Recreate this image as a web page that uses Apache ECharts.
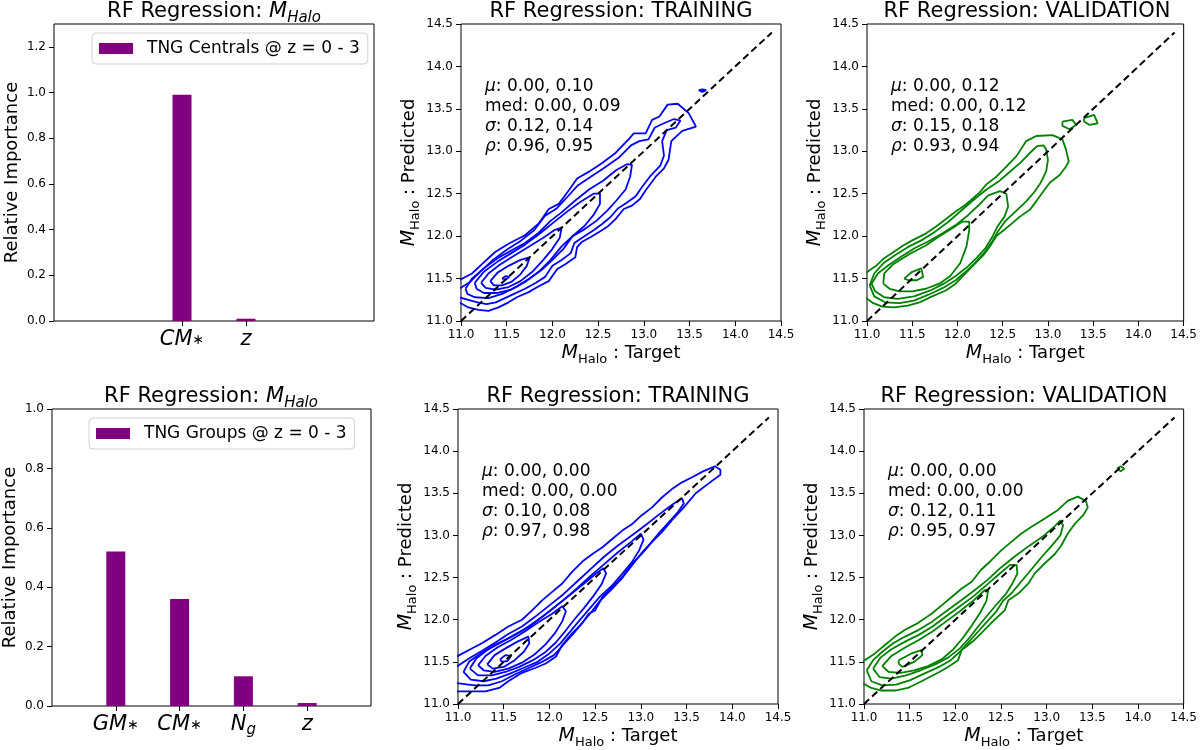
<!DOCTYPE html>
<html>
<head>
<meta charset="utf-8">
<script src="https://cdn.jsdelivr.net/npm/echarts@6/dist/echarts.min.js"></script>
<style>
  html, body { margin: 0; padding: 0; background: #fff; }
  #main { width: 1200px; height: 750px; }
</style>
</head>
<body>
<div id="main"></div>
<script>
var FONT = 'DejaVu Sans';

// bar panels
var centralFeatures = ['CM*', 'z'];
var centralImportance = [0.99, 0.01];
var groupFeatures = ['GM*', 'CM*', 'Ng', 'z'];
var groupImportance = [0.52, 0.36, 0.10, 0.01];

// stats text per contour panel: mu, med, sigma, rho
var statsTrainTop = ['0.00, 0.10', '0.00, 0.09', '0.12, 0.14', '0.96, 0.95'];
var statsValidTop = ['0.00, 0.12', '0.00, 0.12', '0.15, 0.18', '0.93, 0.94'];
var statsTrainBottom = ['0.00, 0.00', '0.00, 0.00', '0.10, 0.08', '0.97, 0.98'];
var statsValidBottom = ['0.00, 0.00', '0.00, 0.00', '0.12, 0.11', '0.95, 0.97'];

var diagonal = [[11, 11], [14.4, 14.4]];

// contour lines (target, predicted)
var trainTop = [
  [[10.98,11.48],[11.12,11.56],[11.25,11.69],[11.37,11.81],[11.52,11.91],[11.70,12.01],[11.85,12.15],[11.96,12.32],[12.07,12.38],[12.18,12.54],[12.27,12.68],[12.40,12.76],[12.54,12.86],[12.69,12.98],[12.84,13.15],[12.89,13.21],[13.02,13.21],[13.09,13.37],[13.17,13.41],[13.26,13.55],[13.37,13.56],[13.49,13.45],[13.57,13.29],[13.42,13.24],[13.30,13.12],[13.27,12.90],[13.22,12.80],[13.13,12.70],[13.02,12.54],[12.96,12.44],[12.87,12.36],[12.78,12.32],[12.69,12.20],[12.60,12.11],[12.51,12.05],[12.42,11.99],[12.32,11.93],[12.27,11.87],[12.25,11.75],[12.14,11.67],[12.05,11.61],[11.96,11.47],[11.85,11.41],[11.74,11.34],[11.61,11.28],[11.52,11.22],[11.41,11.16],[11.30,11.12],[11.19,11.13],[11.08,11.16],[10.98,11.22]],
  [[10.98,11.38],[11.10,11.46],[11.22,11.59],[11.35,11.72],[11.50,11.84],[11.66,11.95],[11.80,12.07],[11.92,12.24],[12.05,12.33],[12.17,12.47],[12.28,12.60],[12.42,12.70],[12.56,12.80],[12.72,12.92],[12.86,13.07],[12.95,13.12],[13.05,13.14],[13.12,13.28],[13.22,13.33],[13.33,13.38],[13.40,13.36],[13.35,13.28],[13.25,13.25],[13.20,13.12],[13.22,12.95],[13.18,12.83],[13.08,12.72],[12.98,12.58],[12.91,12.47],[12.82,12.40],[12.72,12.33],[12.63,12.22],[12.54,12.14],[12.45,12.07],[12.35,12.00],[12.24,11.92],[12.20,11.80],[12.10,11.72],[12.00,11.65],[11.92,11.52],[11.82,11.45],[11.70,11.38],[11.58,11.32],[11.48,11.27],[11.38,11.22],[11.28,11.20],[11.18,11.22],[11.08,11.25],[10.98,11.28]],
  [[11.05,11.38],[11.12,11.50],[11.25,11.62],[11.40,11.74],[11.55,11.83],[11.70,11.92],[11.85,12.04],[11.98,12.18],[12.10,12.28],[12.25,12.42],[12.40,12.55],[12.55,12.65],[12.70,12.78],[12.82,12.85],[12.87,12.84],[12.85,12.70],[12.80,12.55],[12.70,12.42],[12.60,12.30],[12.48,12.18],[12.35,12.08],[12.22,12.00],[12.12,11.85],[12.00,11.72],[11.88,11.60],[11.75,11.50],[11.60,11.40],[11.45,11.32],[11.30,11.27],[11.15,11.28],[11.07,11.32],[11.05,11.38]],
  [[11.15,11.45],[11.25,11.58],[11.40,11.70],[11.55,11.80],[11.70,11.90],[11.85,12.02],[12.00,12.15],[12.15,12.28],[12.30,12.40],[12.45,12.50],[12.52,12.50],[12.52,12.38],[12.45,12.25],[12.35,12.12],[12.22,12.00],[12.10,11.88],[11.98,11.72],[11.85,11.58],[11.70,11.46],[11.55,11.37],[11.40,11.33],[11.25,11.33],[11.17,11.38],[11.15,11.45]],
  [[11.22,11.45],[11.30,11.56],[11.42,11.66],[11.58,11.77],[11.75,11.88],[11.90,11.98],[12.02,12.07],[12.10,12.10],[12.08,11.98],[12.00,11.85],[11.90,11.72],[11.78,11.58],[11.65,11.47],[11.52,11.40],[11.38,11.37],[11.27,11.39],[11.22,11.45]],
  [[11.32,11.47],[11.40,11.57],[11.52,11.65],[11.65,11.72],[11.75,11.75],[11.72,11.65],[11.65,11.55],[11.55,11.46],[11.45,11.42],[11.36,11.42],[11.32,11.47]],
  [[11.45,11.50],[11.49,11.53],[11.53,11.52],[11.49,11.49],[11.45,11.50]],
  [[13.60,13.72],[13.64,13.73],[13.68,13.72],[13.64,13.70],[13.60,13.72]]
];

var validTop = [
  [[10.98,11.56],[11.10,11.65],[11.19,11.74],[11.29,11.81],[11.40,11.89],[11.50,11.95],[11.65,12.03],[11.76,12.11],[11.87,12.20],[11.98,12.29],[12.09,12.37],[12.24,12.51],[12.32,12.61],[12.43,12.70],[12.54,12.82],[12.65,12.94],[12.76,13.12],[12.87,13.18],[13.05,13.19],[13.16,13.14],[13.20,13.02],[13.23,12.88],[13.20,12.82],[13.13,12.72],[13.02,12.63],[12.95,12.53],[12.87,12.41],[12.80,12.31],[12.69,12.23],[12.58,12.13],[12.51,12.07],[12.43,12.00],[12.36,11.88],[12.29,11.78],[12.18,11.66],[12.07,11.54],[11.98,11.44],[11.87,11.36],[11.72,11.29],[11.58,11.22],[11.45,11.18],[11.30,11.16],[11.17,11.17],[11.07,11.21],[10.98,11.28]],
  [[11.03,11.42],[11.08,11.56],[11.18,11.68],[11.30,11.77],[11.45,11.87],[11.60,11.95],[11.75,12.05],[11.90,12.17],[12.03,12.29],[12.17,12.42],[12.32,12.55],[12.45,12.64],[12.57,12.75],[12.70,12.87],[12.80,12.98],[12.88,13.06],[12.95,13.07],[12.98,13.02],[13.00,12.90],[12.98,12.76],[12.92,12.63],[12.85,12.52],[12.76,12.41],[12.64,12.29],[12.53,12.18],[12.45,12.06],[12.38,11.93],[12.30,11.81],[12.20,11.69],[12.09,11.58],[11.98,11.48],[11.84,11.39],[11.68,11.31],[11.52,11.24],[11.36,11.21],[11.20,11.22],[11.08,11.29],[11.03,11.42]],
  [[11.05,11.44],[11.12,11.56],[11.24,11.66],[11.38,11.76],[11.53,11.86],[11.68,11.94],[11.83,12.03],[11.98,12.13],[12.12,12.25],[12.24,12.37],[12.34,12.48],[12.47,12.53],[12.54,12.50],[12.56,12.35],[12.52,12.23],[12.44,12.11],[12.38,11.98],[12.31,11.86],[12.21,11.74],[12.10,11.63],[11.98,11.53],[11.85,11.44],[11.70,11.36],[11.52,11.29],[11.34,11.26],[11.19,11.28],[11.09,11.35],[11.05,11.44]],
  [[11.18,11.44],[11.19,11.56],[11.29,11.67],[11.47,11.79],[11.65,11.89],[11.80,12.00],[11.94,12.09],[12.05,12.17],[12.13,12.17],[12.13,12.07],[12.10,11.88],[12.03,11.68],[11.92,11.53],[11.80,11.44],[11.65,11.38],[11.50,11.35],[11.36,11.35],[11.25,11.38],[11.18,11.44]],
  [[11.41,11.50],[11.50,11.58],[11.60,11.62],[11.62,11.52],[11.55,11.48],[11.46,11.48],[11.41,11.50]],
  [[13.16,13.35],[13.27,13.37],[13.31,13.31],[13.24,13.26],[13.16,13.30],[13.16,13.35]],
  [[13.40,13.39],[13.51,13.43],[13.55,13.33],[13.46,13.31],[13.40,13.35],[13.40,13.39]]
];

var trainBottom = [
  [[10.98,11.56],[11.12,11.64],[11.26,11.72],[11.41,11.82],[11.55,11.92],[11.70,12.00],[11.81,12.11],[11.92,12.23],[12.03,12.33],[12.14,12.43],[12.25,12.57],[12.36,12.69],[12.47,12.78],[12.58,12.86],[12.69,12.96],[12.80,13.06],[12.91,13.14],[13.01,13.24],[13.12,13.33],[13.23,13.45],[13.34,13.55],[13.45,13.63],[13.56,13.69],[13.68,13.76],[13.81,13.82],[13.87,13.78],[13.87,13.72],[13.72,13.60],[13.60,13.50],[13.53,13.41],[13.45,13.31],[13.34,13.18],[13.23,13.04],[13.12,12.92],[13.01,12.78],[12.91,12.67],[12.80,12.51],[12.69,12.39],[12.58,12.27],[12.50,12.11],[12.43,12.07],[12.36,11.96],[12.25,11.84],[12.14,11.70],[12.07,11.56],[11.96,11.48],[11.85,11.43],[11.70,11.37],[11.55,11.27],[11.45,11.19],[11.30,11.15],[11.15,11.15],[10.98,11.15]],
  [[10.98,11.44],[11.12,11.54],[11.26,11.63],[11.41,11.73],[11.55,11.83],[11.70,11.92],[11.85,12.04],[12.00,12.17],[12.15,12.30],[12.30,12.45],[12.45,12.60],[12.60,12.75],[12.75,12.88],[12.90,13.00],[13.05,13.12],[13.20,13.25],[13.35,13.37],[13.45,13.44],[13.47,13.38],[13.40,13.27],[13.30,13.15],[13.20,13.03],[13.10,12.90],[13.00,12.78],[12.90,12.64],[12.80,12.50],[12.68,12.36],[12.55,12.22],[12.45,12.08],[12.35,11.95],[12.25,11.82],[12.15,11.70],[12.05,11.58],[11.92,11.50],[11.78,11.43],[11.62,11.35],[11.48,11.27],[11.33,11.22],[11.18,11.22],[10.98,11.25]],
  [[11.06,11.38],[11.12,11.50],[11.25,11.60],[11.40,11.70],[11.55,11.78],[11.70,11.87],[11.85,11.98],[12.00,12.10],[12.15,12.23],[12.30,12.37],[12.45,12.52],[12.60,12.66],[12.75,12.80],[12.90,12.93],[13.00,13.02],[13.03,12.95],[12.98,12.82],[12.90,12.68],[12.80,12.55],[12.68,12.40],[12.55,12.27],[12.43,12.12],[12.32,11.98],[12.22,11.85],[12.12,11.72],[12.00,11.60],[11.87,11.50],[11.72,11.43],[11.57,11.36],[11.42,11.30],[11.28,11.27],[11.14,11.29],[11.06,11.38]],
  [[11.13,11.42],[11.20,11.54],[11.32,11.64],[11.47,11.73],[11.62,11.82],[11.78,11.92],[11.93,12.04],[12.08,12.17],[12.23,12.30],[12.38,12.43],[12.50,12.54],[12.59,12.61],[12.62,12.55],[12.57,12.42],[12.48,12.28],[12.38,12.14],[12.27,12.00],[12.17,11.86],[12.07,11.73],[11.95,11.61],[11.82,11.52],[11.67,11.44],[11.52,11.38],[11.37,11.34],[11.22,11.34],[11.13,11.42]],
  [[11.22,11.46],[11.30,11.57],[11.43,11.67],[11.58,11.76],[11.73,11.86],[11.88,11.97],[12.03,12.07],[12.14,12.16],[12.18,12.10],[12.14,11.98],[12.06,11.84],[11.96,11.71],[11.84,11.59],[11.70,11.49],[11.55,11.42],[11.40,11.38],[11.28,11.40],[11.22,11.46]],
  [[11.32,11.47],[11.40,11.58],[11.52,11.66],[11.65,11.74],[11.77,11.80],[11.78,11.72],[11.72,11.62],[11.62,11.52],[11.50,11.44],[11.38,11.42],[11.32,11.47]],
  [[11.46,11.53],[11.52,11.58],[11.58,11.57],[11.54,11.51],[11.48,11.50],[11.46,11.53]]
];

var validBottom = [
  [[10.98,11.50],[11.12,11.60],[11.23,11.70],[11.34,11.80],[11.45,11.88],[11.59,11.96],[11.74,12.07],[11.85,12.17],[11.96,12.27],[12.07,12.37],[12.18,12.45],[12.28,12.59],[12.39,12.70],[12.50,12.82],[12.61,12.92],[12.72,13.02],[12.83,13.10],[12.98,13.20],[13.12,13.30],[13.23,13.41],[13.34,13.46],[13.43,13.41],[13.45,13.33],[13.40,13.24],[13.31,13.14],[13.23,13.02],[13.16,12.88],[13.09,12.78],[12.98,12.67],[12.87,12.55],[12.80,12.43],[12.69,12.31],[12.58,12.23],[12.54,12.11],[12.43,12.00],[12.32,11.88],[12.21,11.76],[12.07,11.64],[12.03,11.52],[11.92,11.44],[11.81,11.37],[11.63,11.27],[11.48,11.19],[11.34,11.16],[11.19,11.16],[11.08,11.19],[10.98,11.25]],
  [[11.03,11.40],[11.10,11.52],[11.20,11.62],[11.32,11.72],[11.45,11.80],[11.60,11.88],[11.75,11.98],[11.90,12.10],[12.05,12.22],[12.20,12.34],[12.35,12.47],[12.50,12.62],[12.65,12.75],[12.80,12.87],[12.95,12.98],[13.08,13.10],[13.15,13.18],[13.18,13.12],[13.15,13.00],[13.05,12.87],[12.95,12.75],[12.85,12.62],[12.72,12.45],[12.62,12.32],[12.52,12.22],[12.45,12.10],[12.35,11.98],[12.25,11.86],[12.15,11.74],[12.05,11.62],[11.95,11.52],[11.82,11.44],[11.66,11.36],[11.50,11.28],[11.35,11.23],[11.20,11.22],[11.08,11.27],[11.03,11.40]],
  [[11.10,11.42],[11.18,11.55],[11.30,11.65],[11.45,11.74],[11.60,11.82],[11.75,11.92],[11.90,12.04],[12.05,12.16],[12.20,12.28],[12.35,12.42],[12.50,12.56],[12.60,12.65],[12.67,12.65],[12.68,12.55],[12.62,12.42],[12.55,12.30],[12.45,12.18],[12.35,12.05],[12.25,11.92],[12.15,11.78],[12.05,11.66],[11.92,11.55],[11.78,11.47],[11.62,11.40],[11.46,11.34],[11.30,11.30],[11.17,11.32],[11.10,11.42]],
  [[11.20,11.45],[11.30,11.57],[11.45,11.67],[11.60,11.76],[11.75,11.86],[11.90,11.98],[12.05,12.10],[12.20,12.23],[12.32,12.35],[12.36,12.35],[12.34,12.22],[12.27,12.08],[12.18,11.93],[12.08,11.78],[11.97,11.64],[11.85,11.53],[11.70,11.45],[11.55,11.40],[11.40,11.37],[11.27,11.38],[11.20,11.45]],
  [[11.38,11.52],[11.52,11.60],[11.63,11.64],[11.64,11.58],[11.55,11.50],[11.42,11.44],[11.38,11.48],[11.38,11.52]],
  [[13.77,13.79],[13.81,13.82],[13.85,13.79],[13.81,13.76],[13.77,13.79]]
];

// layout of the six panels (px)
var panels = [
  { left: 54,  top: 24,  width: 320, height: 297 },
  { left: 461, top: 24,  width: 320, height: 297 },
  { left: 867, top: 24,  width: 320, height: 297 },
  { left: 51,  top: 409, width: 320, height: 297 },
  { left: 458, top: 409, width: 320, height: 297 },
  { left: 864, top: 409, width: 320, height: 297 }
];

var chart = echarts.init(document.getElementById('main'));

var tickText = { fontFamily: FONT, fontSize: 12, color: '#000' };
var mathRich = {
  m: { fontFamily: FONT, fontSize: 19, fontStyle: 'italic', color: '#000', lineHeight: 26 },
  s: { fontFamily: FONT, fontSize: 13, color: '#000', lineHeight: 16, verticalAlign: 'bottom' },
  t: { fontFamily: FONT, fontSize: 18, color: '#000', lineHeight: 26 }
};
var titleRich = {
  t: { fontFamily: FONT, fontSize: 21, fontWeight: 'normal', color: '#000', lineHeight: 28 },
  m: { fontFamily: FONT, fontSize: 21, fontWeight: 'normal', fontStyle: 'italic', color: '#000', lineHeight: 28 },
  s: { fontFamily: FONT, fontSize: 15, fontWeight: 'normal', fontStyle: 'italic', color: '#000', lineHeight: 18, verticalAlign: 'bottom' }
};
var featRich = {
  i: { fontFamily: FONT, fontSize: 21, fontStyle: 'italic', color: '#000', lineHeight: 26 },
  s: { fontFamily: FONT, fontSize: 14, color: '#000', lineHeight: 26 },
  si: { fontFamily: FONT, fontSize: 15, fontStyle: 'italic', color: '#000', lineHeight: 18, verticalAlign: 'bottom' }
};

function featLabel(name) {
  if (name === 'Ng') return '{i|N}{si|g}';
  if (name.charAt(name.length - 1) === '*') return '{i|' + name.slice(0, -1) + '}{s|\u2217}';
  return '{i|' + name + '}';
}

var titles = [], grids = [], xAxes = [], yAxes = [], series = [], legends = [], graphics = [];

panels.forEach(function (p, i) {
  grids.push({ left: p.left, top: p.top, width: p.width, height: p.height,
    show: true, borderColor: '#000', borderWidth: 1, backgroundColor: 'transparent' });
  var isBar = (i === 0 || i === 3);
  var ttl = isBar ? '{t|RF Regression: }{m|M}{s|Halo}'
    : (i === 1 || i === 4) ? '{t|RF Regression: TRAINING}' : '{t|RF Regression: VALIDATION}';
  titles.push({ text: ttl, left: p.left + p.width / 2, top: p.top - 26, textAlign: 'center', padding: 0,
    textStyle: { fontWeight: 'normal', rich: titleRich } });
});

// bar panels
function addBarPanel(gi, names, values, xmin, xmax, ymax, legendName, showMax) {
  var idx = names.map(function (n, k) { return k; });
  xAxes.push({ gridIndex: gi, type: 'value', min: xmin, max: xmax,
    axisLine: { show: false, onZero: false }, splitLine: { show: false },
    axisTick: { show: true, length: 5, lineStyle: { color: '#000' }, customValues: idx },
    axisLabel: { margin: 6, customValues: idx,
      formatter: function (v) { return featLabel(names[Math.round(v)]); }, rich: featRich } });
  yAxes.push({ gridIndex: gi, type: 'value', min: 0, max: ymax, interval: 0.2,
    name: 'Relative Importance', nameLocation: 'middle', nameGap: 33,
    nameTextStyle: { fontFamily: FONT, fontSize: 18, color: '#000' },
    axisLine: { show: false, onZero: false }, splitLine: { show: false },
    axisTick: { show: true, length: 5, lineStyle: { color: '#000' } },
    axisLabel: Object.assign({ margin: 8, showMaxLabel: showMax, formatter: function (v) { return v.toFixed(1); } }, tickText) });
  series.push({ type: 'bar', name: legendName, xAxisIndex: gi, yAxisIndex: gi, barWidth: 19,
    itemStyle: { color: '#800080' }, data: values.map(function (v, k) { return [k, v]; }) });
  var p = panels[gi];
  legends.push({ data: [legendName], left: p.left + 38, top: p.top + 9, orient: 'vertical',
    icon: 'rect', itemWidth: 34, itemHeight: 11, padding: [7, 8, 7, 7],
    borderColor: '#d0d0d0', borderWidth: 1, borderRadius: 4, backgroundColor: 'rgba(255,255,255,0.8)',
    textStyle: { fontFamily: FONT, fontSize: 17, color: '#000', padding: [0, 0, 0, 9] }, selectedMode: false });
}

function addContourPanel(gi, contours, color, stats) {
  var axisCommon = { type: 'value', min: 11, max: 14.5, interval: 0.5,
    nameLocation: 'middle', nameTextStyle: { rich: mathRich },
    axisLine: { show: false, onZero: false }, splitLine: { show: false },
    axisTick: { show: true, length: 5, lineStyle: { color: '#000' } },
    axisLabel: Object.assign({ margin: 8, formatter: function (v) { return v.toFixed(1); } }, tickText) };
  xAxes.push(Object.assign({ gridIndex: gi, name: '{m|M}{s|Halo}{t| : Target}', nameGap: 19 }, axisCommon));
  yAxes.push(Object.assign({ gridIndex: gi, name: '{m|M}{s|Halo}{t| : Predicted}', nameGap: 38 }, axisCommon));
  contours.forEach(function (c) {
    series.push({ type: 'line', xAxisIndex: gi, yAxisIndex: gi, data: c, showSymbol: false, symbol: 'none',
      silent: true, lineStyle: { color: color, width: 1.8 }, z: 2 });
  });
  series.push({ type: 'line', xAxisIndex: gi, yAxisIndex: gi, data: diagonal, symbol: 'none', silent: true,
    lineStyle: { color: '#000', width: 2, type: [7, 4] }, z: 3 });
  var p = panels[gi];
  graphics.push({ type: 'text', left: p.left + 24, top: p.top + 53, z: 10,
    style: { text: '{g|\u03bc}: ' + stats[0] + '\nmed: ' + stats[1] + '\n{g|\u03c3}: ' + stats[2] + '\n{g|\u03c1}: ' + stats[3],
      fontFamily: FONT, fontSize: 17, lineHeight: 20, fill: '#000',
      rich: { g: { fontFamily: FONT, fontSize: 17, fontStyle: 'italic', lineHeight: 20, fill: '#000', color: '#000' } } } });
}

addBarPanel(0, centralFeatures, centralImportance, -2, 3, 1.3, 'TNG Centrals @ z = 0 - 3', false);
addContourPanel(1, trainTop, '#0000ff', statsTrainTop);
addContourPanel(2, validTop, '#008000', statsValidTop);
addBarPanel(3, groupFeatures, groupImportance, -1, 4, 1.0, 'TNG Groups @ z = 0 - 3', true);
addContourPanel(4, trainBottom, '#0000ff', statsTrainBottom);
addContourPanel(5, validBottom, '#008000', statsValidBottom);

chart.setOption({
  animation: false,
  backgroundColor: '#fff',
  title: titles,
  grid: grids,
  xAxis: xAxes,
  yAxis: yAxes,
  legend: legends,
  series: series,
  graphic: graphics
});
</script>
</body>
</html>
